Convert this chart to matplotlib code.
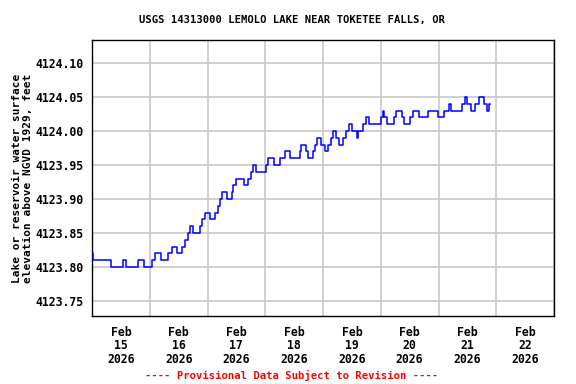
import datetime as dt
import matplotlib
matplotlib.use("Agg")
from matplotlib import pyplot as plt
import matplotlib.dates as mdates
from matplotlib.ticker import MultipleLocator, FormatStrFormatter

title = "USGS 14313000 LEMOLO LAKE NEAR TOKETEE FALLS, OR"
ylab = "Lake or reservoir water surface\nelevation above NGVD 1929, feet"
note = "---- Provisional Data Subject to Revision ----"

# step changes: hours after 2026-02-15 00:00 and elevation (ft)
hours = [0, 0.5, 7.75, 13, 14.25, 19, 21.75, 25, 26.25, 28.75,
         31.5, 33.25, 35.25, 37.5, 38.75, 39.75, 40.75, 42, 44.75, 45.75,
         47, 49, 51, 52.25, 53.25, 54, 56, 58, 58.75, 59.75,
         63.25, 64.75, 66, 67, 68.25, 72.5, 73.25, 75.75, 78, 80.25,
         82.25, 86.25, 86.75, 88.75, 89.75, 91.75, 92.75, 93.5, 95.25, 96.75,
         98.25, 99.25, 100.25, 101.5, 102.5, 104.25, 105.75, 107, 108, 110,
         110.75, 112.75, 113.75, 115, 120, 120.75, 121.5, 122.75, 125.5, 126.5,
         128.75, 129.75, 132.25, 133.5, 135.75, 139.75, 143.75, 146.25, 148.25, 149,
         153.75, 155, 156, 157.5, 159.25, 160.75, 163, 164.25, 165, 165.5]
elev = [4123.82, 4123.81, 4123.80, 4123.81, 4123.80, 4123.81, 4123.80, 4123.81, 4123.82, 4123.81,
        4123.82, 4123.83, 4123.82, 4123.83, 4123.84, 4123.85, 4123.86, 4123.85, 4123.86, 4123.87,
        4123.88, 4123.87, 4123.88, 4123.89, 4123.90, 4123.91, 4123.90, 4123.91, 4123.92, 4123.93,
        4123.92, 4123.93, 4123.94, 4123.95, 4123.94, 4123.95, 4123.96, 4123.95, 4123.96, 4123.97,
        4123.96, 4123.97, 4123.98, 4123.97, 4123.96, 4123.97, 4123.98, 4123.99, 4123.98, 4123.97,
        4123.98, 4123.99, 4124.00, 4123.99, 4123.98, 4123.99, 4124.00, 4124.01, 4124.00, 4123.99,
        4124.00, 4124.01, 4124.02, 4124.01, 4124.02, 4124.03, 4124.02, 4124.01, 4124.02, 4124.03,
        4124.02, 4124.01, 4124.02, 4124.03, 4124.02, 4124.03, 4124.02, 4124.03, 4124.04, 4124.03,
        4124.04, 4124.05, 4124.04, 4124.03, 4124.04, 4124.05, 4124.04, 4124.03, 4124.04, 4124.04]

start = dt.datetime(2026, 2, 15)
times = [start + dt.timedelta(hours=h) for h in hours]

plt.rcParams['font.family'] = 'DejaVu Sans Mono'
plt.rcParams['font.weight'] = 'bold'

fig = plt.figure(figsize=(5.76, 3.84), dpi=100)
ax = fig.add_axes([92 / 576, 1 - 316 / 384, 462 / 576, 276 / 384])

ax.step(times, elev, where='post', color='#0000ff', lw=1.1, zorder=3)

ax.set_xlim(start, start + dt.timedelta(days=8))
ax.set_ylim(4123.728, 4124.134)

ax.xaxis.set_major_locator(mdates.DayLocator())
ax.xaxis.set_major_formatter(plt.NullFormatter())
ax.xaxis.set_minor_locator(mdates.HourLocator(byhour=[12]))
ax.xaxis.set_minor_formatter(mdates.DateFormatter('%b\n%d\n%Y'))
ax.yaxis.set_major_locator(MultipleLocator(0.05))
ax.yaxis.set_major_formatter(FormatStrFormatter('%.2f'))

ax.tick_params(which='both', length=0, labelsize=8.3)
ax.tick_params(axis='x', which='minor', pad=7)
ax.tick_params(axis='y', pad=6)
for lbl in ax.get_xticklabels(which='minor'):
    lbl.set_linespacing(1.05)

ax.grid(which='major', color='#c8c8c8', lw=1.2)
for s in ax.spines.values():
    s.set_linewidth(1.0)
    s.set_color('black')

ax.set_ylabel(ylab, fontsize=8.0, fontweight='bold', linespacing=1.15, labelpad=2)

fig.text(292 / 576, 1 - 20 / 384, title, ha='center', va='center', fontsize=7.6)
fig.text(292 / 576, 1 - 375 / 384, note, ha='center', va='center', fontsize=7.6, color='#ff0000')

fig.savefig("out.png", dpi=100)
